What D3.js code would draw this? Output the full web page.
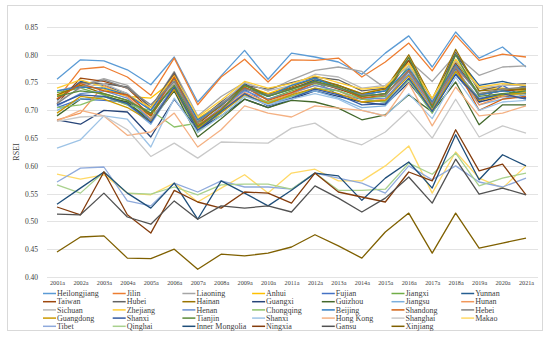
<!DOCTYPE html>
<html><head><meta charset="utf-8">
<script src="https://cdn.jsdelivr.net/npm/d3@7"></script>
<style>body{margin:0;background:#fff}</style>
</head><body><svg id="c" width="550" height="340"></svg>
<script>
const years = ["2001a","2002a","2003a","2004a","2005a","2006a","2007a","2008a","2009a","2010a","2011a","2012a","2013a","2014a","2015a","2016a","2017a","2018a","2019a","2020a","2021a"];
const yTicks = [0.40,0.45,0.50,0.55,0.60,0.65,0.70,0.75,0.80,0.85];
const names = ["Heilongjiang","Jilin","Liaoning","Anhui","Fujian","Jiangxi","Yunnan","Taiwan","Hubei","Hainan","Guangxi","Guizhou","Jiangsu","Hunan","Sichuan","Zhejiang","Henan","Chongqing","Beijing","Shandong","Hebei","Guangdong","Shanxi","Tianjin","Shanxi","Hong Kong","Shanghai","Makao","Tibet","Qinghai","Inner Mongolia","Ningxia","Gansu","Xinjiang"];
const colors = ["#5B9BD5","#ED7D31","#A5A5A5","#FFC000","#4472C4","#70AD47","#255E91","#9E480E","#636363","#997300","#264478","#43682B","#7CAFDD","#F1975A","#B7B7B7","#FFCD33","#698ED0","#8CC168","#327DC2","#D26012","#848484","#CC9A00","#335AA1","#5A8A39","#9DC3E6","#F4B183","#C9C9C9","#FFD966","#8FAADC","#A9D18E","#1F4E79","#843C0C","#525252","#7F6000"];
const heilongjiang = [0.756,0.791,0.789,0.773,0.746,0.796,0.715,0.762,0.808,0.756,0.803,0.796,0.787,0.765,0.803,0.834,0.778,0.841,0.794,0.814,0.778];
const jilin = [0.720,0.774,0.778,0.760,0.727,0.794,0.710,0.760,0.792,0.751,0.791,0.790,0.794,0.760,0.787,0.821,0.771,0.835,0.790,0.801,0.796];
const liaoning = [0.735,0.745,0.757,0.745,0.705,0.770,0.690,0.725,0.750,0.735,0.755,0.772,0.778,0.770,0.740,0.790,0.752,0.800,0.763,0.778,0.780];
const anhui = [0.725,0.745,0.738,0.725,0.722,0.755,0.685,0.712,0.745,0.730,0.745,0.755,0.745,0.730,0.740,0.785,0.720,0.790,0.740,0.740,0.735];
const fujian = [0.705,0.720,0.718,0.715,0.695,0.752,0.670,0.700,0.738,0.712,0.728,0.752,0.728,0.720,0.715,0.770,0.705,0.775,0.715,0.745,0.722];
const jiangxi = [0.732,0.740,0.728,0.712,0.685,0.740,0.660,0.698,0.742,0.720,0.735,0.748,0.740,0.722,0.725,0.780,0.710,0.790,0.730,0.735,0.740];
const yunnan = [0.718,0.752,0.745,0.730,0.690,0.760,0.680,0.712,0.748,0.725,0.738,0.755,0.745,0.728,0.735,0.790,0.712,0.800,0.745,0.752,0.742];
const taiwan = [0.712,0.758,0.752,0.740,0.700,0.765,0.675,0.710,0.740,0.728,0.740,0.752,0.738,0.725,0.730,0.790,0.708,0.785,0.728,0.735,0.738];
const hubei = [0.720,0.750,0.748,0.742,0.705,0.768,0.680,0.715,0.745,0.738,0.750,0.760,0.755,0.735,0.740,0.795,0.715,0.805,0.735,0.745,0.748];
const hainan = [0.728,0.745,0.730,0.718,0.690,0.750,0.678,0.708,0.745,0.728,0.742,0.758,0.745,0.730,0.738,0.800,0.720,0.810,0.735,0.738,0.738];
const guangxi = [0.683,0.675,0.700,0.697,0.652,0.720,0.665,0.690,0.720,0.705,0.720,0.735,0.725,0.715,0.710,0.750,0.700,0.765,0.715,0.725,0.722];
const guizhou = [0.690,0.720,0.725,0.715,0.680,0.735,0.652,0.685,0.720,0.705,0.718,0.715,0.704,0.683,0.692,0.728,0.697,0.751,0.674,0.710,0.710];
const jiangsu = [0.700,0.720,0.725,0.710,0.675,0.740,0.665,0.700,0.730,0.710,0.725,0.735,0.722,0.705,0.708,0.755,0.695,0.770,0.710,0.720,0.728];
const hunan = [0.683,0.695,0.745,0.725,0.685,0.738,0.668,0.700,0.732,0.715,0.730,0.745,0.735,0.715,0.720,0.770,0.705,0.780,0.710,0.725,0.730];
const sichuan = [0.715,0.740,0.748,0.730,0.700,0.750,0.682,0.712,0.750,0.735,0.745,0.765,0.760,0.740,0.745,0.780,0.718,0.790,0.740,0.745,0.745];
const zhejiang = [0.740,0.755,0.742,0.728,0.705,0.762,0.688,0.718,0.752,0.740,0.748,0.762,0.750,0.738,0.742,0.785,0.722,0.792,0.742,0.748,0.745];
const henan = [0.708,0.730,0.735,0.722,0.682,0.745,0.672,0.705,0.735,0.720,0.732,0.745,0.735,0.720,0.722,0.765,0.705,0.772,0.722,0.728,0.735];
const chongqing = [0.705,0.710,0.725,0.710,0.700,0.670,0.677,0.690,0.725,0.715,0.725,0.740,0.735,0.720,0.715,0.755,0.695,0.770,0.720,0.728,0.730];
const beijing = [0.735,0.742,0.740,0.728,0.700,0.758,0.683,0.710,0.740,0.725,0.745,0.758,0.740,0.728,0.735,0.775,0.715,0.782,0.728,0.735,0.730];
const shandong = [0.720,0.748,0.735,0.728,0.692,0.760,0.672,0.702,0.742,0.718,0.732,0.750,0.742,0.722,0.728,0.772,0.710,0.778,0.700,0.720,0.725];
const hebei = [0.712,0.742,0.755,0.740,0.710,0.752,0.678,0.712,0.738,0.728,0.738,0.750,0.740,0.728,0.728,0.770,0.712,0.778,0.730,0.738,0.742];
const guangdong = [0.695,0.725,0.720,0.705,0.680,0.738,0.668,0.695,0.728,0.712,0.728,0.740,0.730,0.715,0.718,0.762,0.700,0.770,0.718,0.728,0.732];
const shanxi = [0.710,0.728,0.725,0.712,0.678,0.742,0.664,0.698,0.730,0.708,0.722,0.738,0.728,0.710,0.712,0.758,0.698,0.765,0.720,0.730,0.720];
const tianjin = [0.725,0.735,0.730,0.718,0.695,0.745,0.670,0.700,0.745,0.725,0.738,0.752,0.742,0.725,0.730,0.795,0.705,0.800,0.725,0.730,0.735];
const shaanxi = [0.632,0.647,0.690,0.684,0.634,0.722,0.660,0.690,0.725,0.710,0.720,0.730,0.720,0.700,0.690,0.730,0.685,0.760,0.700,0.715,0.718];
const hongKong = [0.680,0.700,0.690,0.655,0.661,0.695,0.634,0.665,0.708,0.695,0.688,0.708,0.704,0.700,0.690,0.749,0.672,0.742,0.690,0.695,0.708];
const shanghai = [0.680,0.688,0.690,0.665,0.617,0.641,0.614,0.643,0.642,0.641,0.668,0.677,0.650,0.638,0.661,0.700,0.650,0.720,0.652,0.672,0.659];
const makao = [0.585,0.576,0.584,0.551,0.548,0.569,0.535,0.560,0.584,0.551,0.587,0.594,0.573,0.573,0.600,0.636,0.551,0.625,0.578,0.560,0.600];
const tibet = [0.571,0.596,0.598,0.537,0.528,0.569,0.553,0.573,0.562,0.562,0.558,0.587,0.578,0.569,0.551,0.600,0.575,0.600,0.571,0.562,0.578];
const qinghai = [0.566,0.551,0.589,0.551,0.549,0.562,0.548,0.566,0.567,0.567,0.558,0.587,0.556,0.556,0.558,0.605,0.585,0.623,0.564,0.578,0.587];
const innerMongolia = [0.531,0.560,0.589,0.551,0.524,0.569,0.504,0.573,0.551,0.528,0.556,0.587,0.582,0.538,0.578,0.607,0.560,0.656,0.575,0.620,0.600];
const ningxia = [0.526,0.512,0.589,0.512,0.479,0.556,0.535,0.524,0.553,0.551,0.533,0.587,0.553,0.544,0.535,0.589,0.573,0.665,0.591,0.603,0.548];
const gansu = [0.513,0.512,0.551,0.508,0.495,0.537,0.504,0.528,0.524,0.528,0.517,0.564,0.542,0.517,0.542,0.580,0.533,0.612,0.549,0.560,0.548];
const xinjiang = [0.445,0.472,0.474,0.434,0.433,0.450,0.414,0.441,0.438,0.443,0.454,0.476,0.456,0.434,0.481,0.515,0.443,0.515,0.452,0.461,0.470];
const values = [heilongjiang,jilin,liaoning,anhui,fujian,jiangxi,yunnan,taiwan,hubei,hainan,guangxi,guizhou,jiangsu,hunan,sichuan,zhejiang,henan,chongqing,beijing,shandong,hebei,guangdong,shanxi,tianjin,shaanxi,hongKong,shanghai,makao,tibet,qinghai,innerMongolia,ningxia,gansu,xinjiang];

const svg = d3.select("#c");
const serif = "'Liberation Serif','Times New Roman',serif";
svg.append("rect").attr("x",7.5).attr("y",5.5).attr("width",535).attr("height",325)
  .attr("fill","#fff").attr("stroke","#d9d9d9").attr("stroke-width",1);

const x = d3.scalePoint().domain(years).range([57,526]);
const y = d3.scaleLinear().domain([0.40,0.85]).range([277,27]);
const plotL = 47, plotR = 538;

svg.append("g").selectAll("line").data(yTicks).join("line")
  .attr("x1",plotL).attr("x2",plotR)
  .attr("y1",d=>Math.round(y(d))+0.5).attr("y2",d=>Math.round(y(d))+0.5)
  .attr("stroke","#e3e3e3").attr("stroke-width",1);

const yAxis = svg.append("g").attr("transform",`translate(${plotL},0)`)
  .call(d3.axisLeft(y).tickValues(yTicks).tickFormat(d3.format(".2f")).tickSize(0).tickPadding(9));
yAxis.select(".domain").remove();
yAxis.selectAll("text").attr("font-family",serif).attr("font-size",7.5).attr("fill","#404040");

const xAxis = svg.append("g").attr("transform",`translate(0,277)`)
  .call(d3.axisBottom(x).tickSize(0).tickPadding(4));
xAxis.select(".domain").remove();
xAxis.selectAll("text").attr("font-family",serif).attr("font-size",6.2).attr("fill","#404040");

svg.append("text").attr("transform","translate(19,152) rotate(-90)")
  .attr("text-anchor","middle").attr("font-family",serif).attr("font-size",8).attr("fill","#404040").text("RSEI");

const line = d3.line().x((d,i)=>x(years[i])).y(d=>y(d));
svg.append("g").selectAll("path").data(values).join("path")
  .attr("d",line).attr("fill","none")
  .attr("stroke",(d,i)=>colors[i]).attr("stroke-width",1.3).attr("stroke-linejoin","round");

const lg = svg.append("g");
names.forEach((n,i)=>{
  const col = i%7, row = Math.floor(i/7);
  const lx = 43 + col*69.7, ly = 293.5 + row*8.2;
  lg.append("line").attr("x1",lx).attr("x2",lx+13).attr("y1",ly).attr("y2",ly)
    .attr("stroke",colors[i]).attr("stroke-width",1.5);
  lg.append("text").attr("x",lx+14).attr("y",ly+2.7).attr("font-family",serif)
    .attr("font-size",8).attr("fill","#404040").text(n);
});
</script></body></html>
